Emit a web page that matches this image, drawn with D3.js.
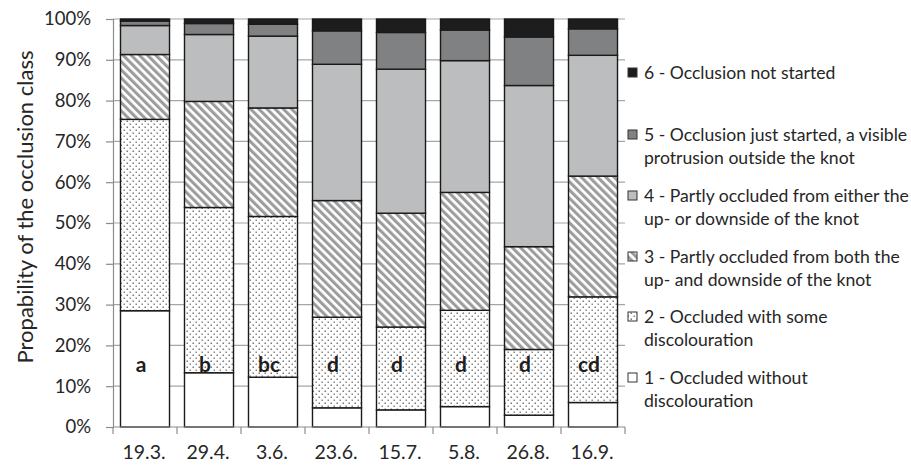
<!DOCTYPE html>
<html>
<head>
<meta charset="utf-8">
<script src="https://cdn.jsdelivr.net/npm/d3@7/dist/d3.min.js"></script>
<style>
  html, body { margin: 0; padding: 0; background: #fff; }
  svg { display: block; font-family: Lato, "Open Sans", sans-serif; }
</style>
</head>
<body>
<svg id="chart" width="911" height="468"></svg>
<script>
// Sampling dates
const dates = ["19.3.", "29.4.", "3.6.", "23.6.", "15.7.", "5.8.", "26.8.", "16.9."];

// Share (%) of knots in each occlusion class per date
const class1 = [28.5, 13.3, 12.2, 4.7, 4.2, 5.0, 2.9, 6.0];
const class2 = [46.9, 40.5, 39.4, 22.2, 20.3, 23.6, 16.1, 25.9];
const class3 = [15.9, 26.0, 26.6, 28.6, 27.9, 28.9, 25.2, 29.6];
const class4 = [7.1, 16.4, 17.6, 33.4, 35.3, 32.3, 39.5, 29.6];
const class5 = [1.1, 2.7, 2.9, 8.2, 9.0, 7.5, 11.9, 6.5];
const class6 = [0.5, 1.1, 1.3, 2.9, 3.3, 2.7, 4.4, 2.4];

// Significance letters shown inside the bars
const groupLetters = ["a", "b", "bc", "d", "d", "d", "d", "cd"];

const yTicks = [0, 10, 20, 30, 40, 50, 60, 70, 80, 90, 100];

const classNames = [
  ["1 - Occluded without", "discolouration"],
  ["2 - Occluded with some", "discolouration"],
  ["3 - Partly occluded from both the", "up- and downside of the knot"],
  ["4 - Partly occluded from either the", "up- or downside of the knot"],
  ["5 - Occlusion just started, a visible", "protrusion outside the knot"],
  ["6 - Occlusion not started"]
];

const keys = ["c1", "c2", "c3", "c4", "c5", "c6"];
const series = [class1, class2, class3, class4, class5, class6];
const rows = dates.map((d, i) => {
  const r = { date: d };
  keys.forEach((k, j) => r[k] = series[j][i]);
  return r;
});

const svg = d3.select("#chart");
const defs = svg.append("defs");

// Dotted fill for class 2
const dots = defs.append("pattern")
  .attr("id", "dots").attr("patternUnits", "userSpaceOnUse")
  .attr("width", 6).attr("height", 6);
dots.append("rect").attr("width", 6).attr("height", 6).attr("fill", "#fff");
dots.append("rect").attr("x", 0.5).attr("y", 0.5).attr("width", 1.5).attr("height", 1.5).attr("fill", "#7a7a7a");
dots.append("rect").attr("x", 3.5).attr("y", 3.5).attr("width", 1.5).attr("height", 1.5).attr("fill", "#8a8a8a");

// Diagonal hatch for class 3
const hatch = defs.append("pattern")
  .attr("id", "hatch").attr("patternUnits", "userSpaceOnUse")
  .attr("width", 5.8).attr("height", 10)
  .attr("patternTransform", "rotate(-45)");
hatch.append("rect").attr("width", 5.8).attr("height", 10).attr("fill", "#fff");
hatch.append("rect").attr("width", 3.1).attr("height", 10).attr("fill", "#9d9d9d");

const fills = {
  c1: "#ffffff",
  c2: "url(#dots)",
  c3: "url(#hatch)",
  c4: "#bcbdbf",
  c5: "#808183",
  c6: "#1d1d1d"
};

const x = d3.scaleBand().domain(dates).range([113, 625])
  .paddingInner(0.234).paddingOuter(0.117);
const y = d3.scaleLinear().domain([0, 100]).range([427, 19]);

// Horizontal gridlines
svg.append("g").selectAll("line").data(yTicks.slice(1)).join("line")
  .attr("x1", 113).attr("x2", 625)
  .attr("y1", d => y(d)).attr("y2", d => y(d))
  .attr("stroke", "#a6a6a6").attr("stroke-width", 1.2);

// Stacked bars
const stack = d3.stack().keys(keys)(rows);
svg.append("g").selectAll("g").data(stack).join("g")
  .attr("fill", d => fills[d.key])
  .selectAll("rect").data(d => d).join("rect")
  .attr("x", d => x(d.data.date))
  .attr("width", x.bandwidth())
  .attr("y", d => y(d[1]))
  .attr("height", d => y(d[0]) - y(d[1]))
  .attr("stroke", "#1a1a1a").attr("stroke-width", 1.4);

// Y axis
const yAxis = svg.append("g").attr("transform", "translate(113,0)")
  .call(d3.axisLeft(y).tickValues(yTicks).tickFormat(d => d + "%").tickSize(7).tickPadding(15));
yAxis.select(".domain").attr("stroke", "#8c8c8c").attr("stroke-width", 1.2);
yAxis.selectAll(".tick line").attr("stroke", "#8c8c8c").attr("stroke-width", 1.2);
yAxis.selectAll("text").attr("font-size", 18.5).attr("fill", "#262626")
  .attr("font-family", "Lato, sans-serif");

// X axis with ticks on category boundaries
const xAxisG = svg.append("g");
xAxisG.append("line").attr("x1", 113).attr("x2", 625).attr("y1", y(0)).attr("y2", y(0))
  .attr("stroke", "#8c8c8c").attr("stroke-width", 1.2);
const bounds = dates.map(d => x(d) - x.step() * x.paddingOuter()).concat([625]);
xAxisG.selectAll("line.tk").data(bounds).join("line").attr("class", "tk")
  .attr("x1", d => d).attr("x2", d => d)
  .attr("y1", y(0)).attr("y2", y(0) + 7)
  .attr("stroke", "#8c8c8c").attr("stroke-width", 1.2);
xAxisG.selectAll("text").data(dates).join("text")
  .attr("x", d => x(d) + x.bandwidth() / 2 - 1)
  .attr("y", 459)
  .attr("text-anchor", "middle")
  .attr("font-size", 19.5).attr("fill", "#262626")
  .text(d => d);

// Group letters
svg.append("g").selectAll("text").data(dates).join("text")
  .attr("x", (d, i) => x(d) + x.bandwidth() / 2 - 4)
  .attr("y", 372)
  .attr("text-anchor", "middle")
  .attr("font-size", 21).attr("font-weight", "bold").attr("fill", "#1e1e1e")
  .text((d, i) => groupLetters[i]);

// Y axis title
svg.append("text")
  .attr("transform", "translate(33,207) rotate(-90)")
  .attr("text-anchor", "middle")
  .attr("font-size", 22).attr("fill", "#262626")
  .text("Propability of the occlusion class");

// Legend, class 6 on top
const legendTop = [73, 135, 196, 257, 317, 378];
const legendOrder = [5, 4, 3, 2, 1, 0];
const lg = svg.append("g");
legendOrder.forEach((ci, row) => {
  const cy = legendTop[row];
  lg.append("rect")
    .attr("x", 628).attr("y", cy - 5).attr("width", 9).attr("height", 9)
    .attr("fill", fills[keys[ci]]).attr("stroke", "#333").attr("stroke-width", 1);
  const t = lg.append("text").attr("font-size", 17.6).attr("fill", "#262626");
  classNames[ci].forEach((line, li) => {
    t.append("tspan").attr("x", 644).attr("y", cy + 6 + li * 22.5).text(line);
  });
});
</script>
</body>
</html>
